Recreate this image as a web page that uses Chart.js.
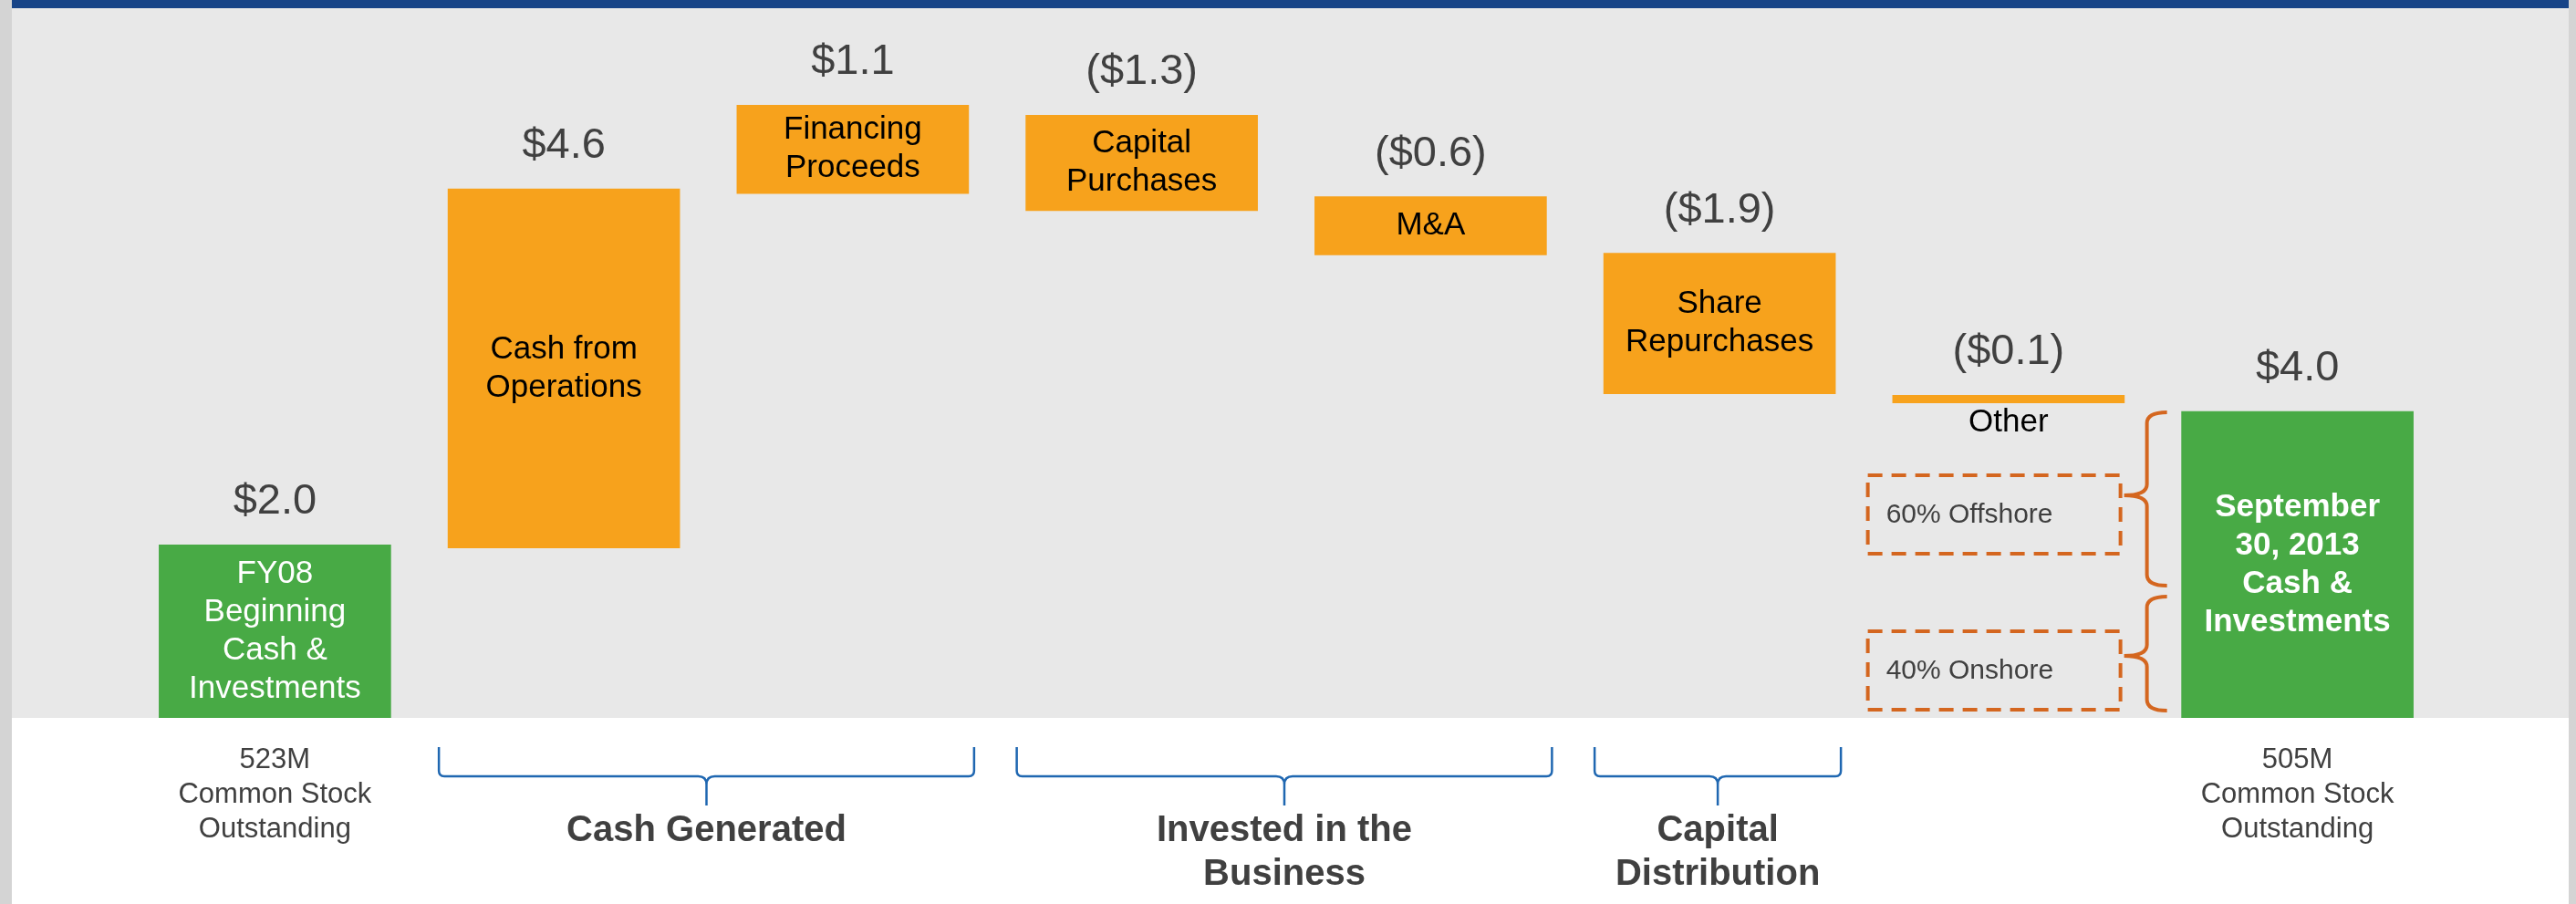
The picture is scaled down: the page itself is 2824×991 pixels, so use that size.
<!DOCTYPE html>
<html>
<head>
<meta charset="utf-8">
<script src="https://cdn.jsdelivr.net/npm/chart.js@4.4.0/dist/chart.umd.min.js"></script>
<style>
html, body { margin: 0; padding: 0; background: #fff; }
canvas { display: block; }
</style>
</head>
<body>
<canvas id="myChart" width="2824" height="991"></canvas>
<script>
// steps of the cash bridge
const categories = ['FY08 Beginning', 'Cash from Operations', 'Financing Proceeds', 'Capital Purchases', 'M&A', 'Share Repurchases', 'Other', 'September 30, 2013'];
// floating bar ranges in $B as drawn (the slide is not strictly to scale)
const barLow  = [0,    2.19, 6.76, 6.54, 5.97, 4.18, 4.06, 0];
const barHigh = [2.23, 6.82, 7.90, 7.77, 6.72, 5.99, 4.16, 3.95];
const valueLabels = ['$2.0', '$4.6', '$1.1', '($1.3)', '($0.6)', '($1.9)', '($0.1)', '$4.0'];
const barText = [
  ['FY08', 'Beginning', 'Cash &', 'Investments'],
  ['Cash from', 'Operations'],
  ['Financing', 'Proceeds'],
  ['Capital', 'Purchases'],
  ['M&A'],
  ['Share', 'Repurchases'],
  [],
  ['September', '30, 2013', 'Cash &', 'Investments']
];
const isTotal = [true, false, false, false, false, false, false, true];
const groupNames = [['Cash Generated'], ['Invested in the', 'Business'], ['Capital', 'Distribution']];
const groupFirst = [1, 3, 5];
const groupLast = [2, 4, 5];
const sharesStart = ['523M', 'Common Stock', 'Outstanding'];
const sharesEnd = ['505M', 'Common Stock', 'Outstanding'];
const splitLabels = ['60% Offshore', '40% Onshore'];

const FONT = '"Liberation Sans", Arial, sans-serif';
const GREEN = '#48aa45';
const ORANGE = '#f7a21c';
const TXT = '#404040';

function drawLines(ctx, arr, x, yc, lh) {
  const y0 = yc - (arr.length - 1) * lh / 2;
  arr.forEach((t, i) => ctx.fillText(t, x, y0 + i * lh));
}

// horizontal curly brace opening upward
function hBrace(ctx, x1, x2, yTop, yMid, yTip) {
  const xm = (x1 + x2) / 2, r = 6, t = 9;
  ctx.beginPath();
  ctx.moveTo(x1, yTop);
  ctx.lineTo(x1, yMid - r);
  ctx.quadraticCurveTo(x1, yMid, x1 + r, yMid);
  ctx.lineTo(xm - t, yMid);
  ctx.quadraticCurveTo(xm, yMid, xm, yMid + t);
  ctx.lineTo(xm, yTip);
  ctx.moveTo(xm, yMid + t);
  ctx.quadraticCurveTo(xm, yMid, xm + t, yMid);
  ctx.lineTo(x2 - r, yMid);
  ctx.quadraticCurveTo(x2, yMid, x2, yMid - r);
  ctx.lineTo(x2, yTop);
  ctx.stroke();
}

// vertical "{" brace
function vBrace(ctx, xEnd, xSpine, xTip, yTop, yTip, yBot) {
  const r = 12;
  ctx.beginPath();
  ctx.moveTo(xEnd, yTop);
  ctx.quadraticCurveTo(xSpine, yTop, xSpine, yTop + r);
  ctx.lineTo(xSpine, yTip - r);
  ctx.quadraticCurveTo(xSpine, yTip, xTip, yTip);
  ctx.quadraticCurveTo(xSpine, yTip, xSpine, yTip + r);
  ctx.lineTo(xSpine, yBot - r);
  ctx.quadraticCurveTo(xSpine, yBot, xEnd, yBot);
  ctx.stroke();
}

const backdrop = {
  id: 'backdrop',
  beforeDraw(chart) {
    const ctx = chart.ctx, W = chart.width, H = chart.height;
    const base = chart.scales.y.getPixelForValue(0);
    ctx.save();
    ctx.fillStyle = '#ffffff';
    ctx.fillRect(0, 0, W, H);
    ctx.fillStyle = '#e8e8e8';
    ctx.fillRect(13, 0, W - 21, base);
    ctx.fillStyle = '#d4d4d4';
    ctx.fillRect(0, 0, 13, H);
    ctx.fillRect(W - 8, 0, 8, H);
    ctx.fillStyle = '#174487';
    ctx.fillRect(13, 0, W - 21, 9);
    ctx.restore();
  }
};

const annotate = {
  id: 'annotate',
  afterDatasetsDraw(chart) {
    const ctx = chart.ctx;
    const bars = chart.getDatasetMeta(0).data;
    const base = chart.scales.y.getPixelForValue(0);
    ctx.save();
    ctx.textAlign = 'center';
    ctx.textBaseline = 'middle';

    bars.forEach((b, i) => {
      const top = Math.min(b.y, b.base), bot = Math.max(b.y, b.base);
      ctx.fillStyle = TXT;
      ctx.font = '47px ' + FONT;
      ctx.fillText(valueLabels[i], b.x, top - 47);

      if (barText[i].length) {
        ctx.fillStyle = isTotal[i] ? '#ffffff' : '#000000';
        ctx.font = (i === bars.length - 1 ? 'bold ' : '') + '35px ' + FONT;
        drawLines(ctx, barText[i], b.x, (top + bot) / 2, 42);
      } else {
        ctx.fillStyle = '#000000';
        ctx.font = '35px ' + FONT;
        ctx.fillText(categories[i], b.x, bot + 22);
      }
    });

    // share counts under the two totals
    ctx.fillStyle = TXT;
    ctx.font = '31px ' + FONT;
    drawLines(ctx, sharesStart, bars[0].x, base + 84, 38);
    drawLines(ctx, sharesEnd, bars[bars.length - 1].x, base + 84, 38);

    // group braces and names
    ctx.strokeStyle = '#1f67b1';
    ctx.lineWidth = 2.5;
    groupNames.forEach((names, g) => {
      const a = bars[groupFirst[g]], z = bars[groupLast[g]];
      const x1 = a.x - a.width / 2 - 10, x2 = z.x + z.width / 2 + 6;
      hBrace(ctx, x1, x2, base + 32, base + 64, base + 96);
      ctx.fillStyle = TXT;
      ctx.font = 'bold 40px ' + FONT;
      names.forEach((t, k) => ctx.fillText(t, (x1 + x2) / 2, base + 124 + k * 48));
    });

    // offshore / onshore split of the closing balance
    const last = bars[bars.length - 1];
    const sl = last.x - last.width / 2;
    const boxes = [[base - 266, base - 180], [base - 95, base - 9]];
    ctx.strokeStyle = '#d4661f';
    ctx.lineWidth = 4;
    ctx.setLineDash([16, 10]);
    ctx.textAlign = 'left';
    ctx.font = '30px ' + FONT;
    boxes.forEach(([y1, y2], k) => {
      ctx.strokeRect(sl - 344, y1, 277, y2 - y1);
      ctx.fillStyle = TXT;
      ctx.fillText(splitLabels[k], sl - 324, (y1 + y2) / 2 + 1);
    });
    ctx.setLineDash([]);
    ctx.lineWidth = 4;
    vBrace(ctx, sl - 16, sl - 38, sl - 63, base - 335, base - 244, base - 145);
    vBrace(ctx, sl - 16, sl - 38, sl - 63, base - 133, base - 68, base - 8);

    ctx.restore();
  }
};

new Chart(document.getElementById('myChart'), {
  type: 'bar',
  data: {
    labels: categories,
    datasets: [{
      data: categories.map((c, i) => [barLow[i], barHigh[i]]),
      backgroundColor: isTotal.map(t => t ? GREEN : ORANGE),
      borderWidth: 0,
      barThickness: 254
    }]
  },
  options: {
    responsive: false,
    animation: false,
    layout: { padding: { left: 143, right: 147, top: 9, bottom: 204 } },
    plugins: { legend: { display: false }, tooltip: { enabled: false } },
    scales: {
      x: { display: false },
      y: { display: false, min: 0, max: 9.15 }
    }
  },
  plugins: [backdrop, annotate]
});
</script>
</body>
</html>
